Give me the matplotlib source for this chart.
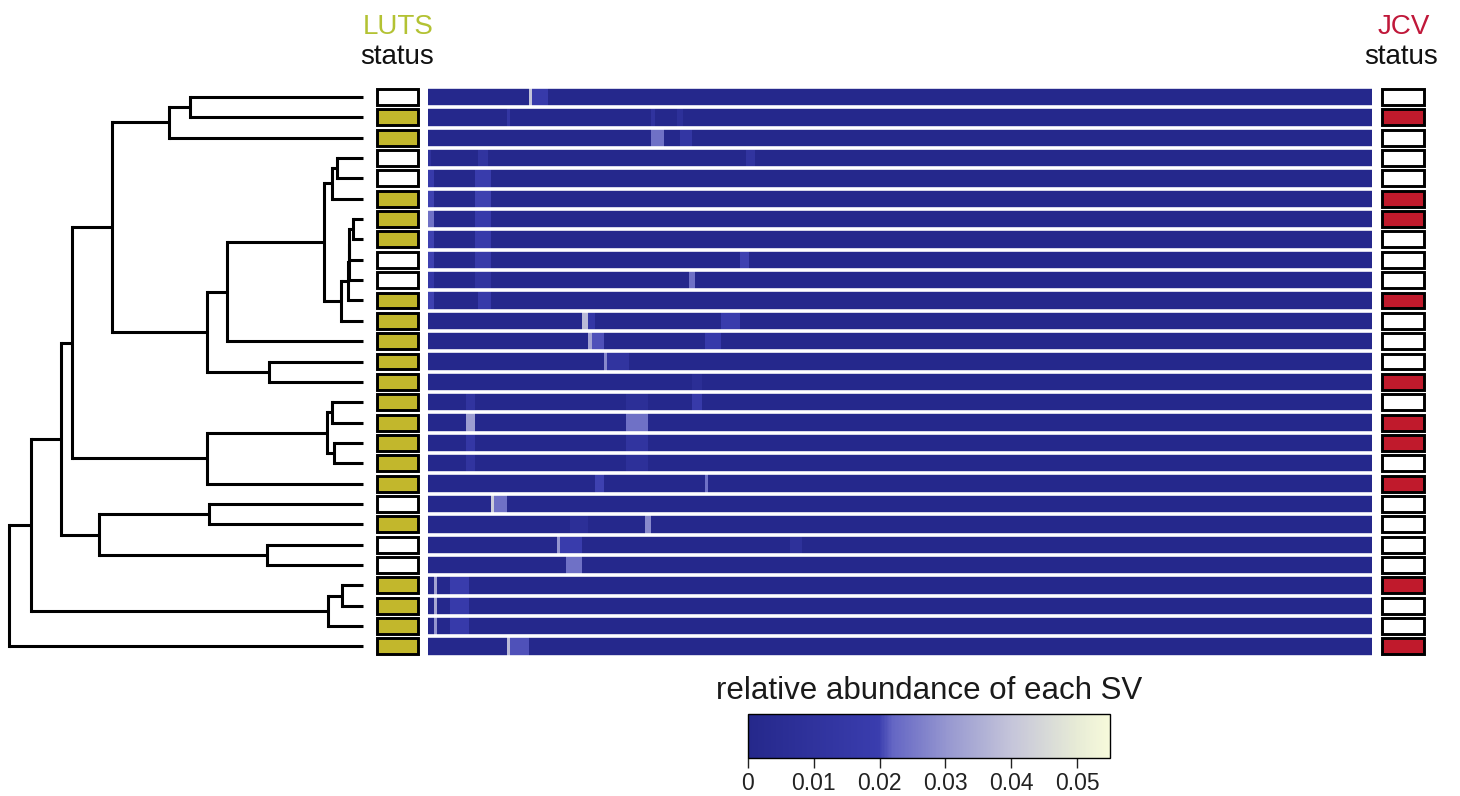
import numpy as np
import matplotlib
matplotlib.use("Agg")
import matplotlib.pyplot as plt
from matplotlib.patches import Rectangle
from matplotlib.colors import LinearSegmentedColormap, Normalize
import matplotlib.cm as cm

plt.rcParams['font.family'] = ['Liberation Sans', 'DejaVu Sans']

# ---------------- data ----------------
n_samples = 28
n_sv = 300

# LUTS status per sample (1 = LUTS, 0 = none), top to bottom
luts_status = [0, 1, 1, 0, 0, 1, 1, 1, 0, 0, 1, 1, 1, 1, 1,
               1, 1, 1, 1, 1, 0, 1, 0, 0, 1, 1, 1, 1]
# JCV status per sample (1 = positive)
jcv_status = [0, 1, 0, 0, 0, 1, 1, 0, 0, 0, 1, 0, 0, 0, 1,
              0, 1, 1, 0, 1, 0, 0, 0, 0, 1, 0, 0, 1]

# hierarchical clustering merges: (child_a, child_b, height); leaves 0..27, new nodes 28..
linkage = [
    (0, 1, 173), (28, 2, 194), (3, 4, 26.5), (30, 5, 31),
    (6, 7, 10.5), (32, 8, 13.7), (33, 9, 14.5), (34, 10, 15.3),
    (35, 11, 22.3), (31, 36, 39), (37, 12, 136), (13, 14, 94),
    (38, 39, 156), (29, 40, 251), (15, 16, 31), (17, 18, 29),
    (42, 43, 36), (44, 19, 156), (41, 45, 291), (20, 21, 154),
    (22, 23, 96), (47, 48, 264), (46, 49, 302), (24, 25, 21),
    (51, 26, 35), (50, 52, 332), (53, 27, 354),
]

# relative abundance highlights per sample: (first SV, last SV, abundance)
background_abundance = 0.001
sv_highlights = [
    [(32, 32, 0.040), (33, 37, 0.018)],
    [(25, 25, 0.014), (71, 71, 0.011), (79, 80, 0.008)],
    [(71, 74, 0.024), (80, 83, 0.014)],
    [(0, 0, 0.010), (16, 18, 0.012), (101, 103, 0.012)],
    [(0, 1, 0.018), (15, 19, 0.019)],
    [(0, 1, 0.020), (15, 19, 0.020)],
    [(0, 1, 0.024), (15, 19, 0.018)],
    [(0, 1, 0.020), (15, 19, 0.018)],
    [(0, 1, 0.020), (15, 19, 0.017), (99, 101, 0.020)],
    [(0, 1, 0.015), (15, 19, 0.012), (83, 84, 0.024)],
    [(0, 1, 0.020), (16, 19, 0.017)],
    [(49, 50, 0.038), (51, 52, 0.015), (93, 98, 0.019)],
    [(51, 52, 0.033), (52, 55, 0.021), (88, 92, 0.018)],
    [(56, 56, 0.028), (57, 63, 0.012)],
    [(84, 86, 0.006)],
    [(12, 14, 0.012), (84, 86, 0.017), (63, 69, 0.007)],
    [(12, 14, 0.032), (63, 69, 0.024)],
    [(12, 14, 0.015), (63, 69, 0.012)],
    [(12, 14, 0.012), (63, 69, 0.008)],
    [(53, 55, 0.020), (88, 88, 0.024)],
    [(20, 20, 0.042), (21, 24, 0.024)],
    [(69, 70, 0.028), (45, 50, 0.007)],
    [(41, 41, 0.030), (42, 48, 0.019), (115, 118, 0.009)],
    [(44, 48, 0.024)],
    [(2, 2, 0.033), (7, 12, 0.019)],
    [(2, 2, 0.034), (7, 12, 0.018)],
    [(2, 2, 0.030), (7, 12, 0.018)],
    [(25, 25, 0.038), (26, 31, 0.021)],
]

cbar_ticks = [0, 0.01, 0.02, 0.03, 0.04, 0.05]
cbar_max = 0.055

# ---------------- layout helpers ----------------
W, H = 1460, 796
fig = plt.figure(figsize=(W / 100, H / 100), dpi=100)


def ax_px(x0, x1, y0, y1):
    return fig.add_axes([x0 / W, 1 - y1 / H, (x1 - x0) / W, (y1 - y0) / H])


row_top, row_bot = 86.8, 656.6
ylims = (n_samples - 0.5, -0.5)

# ---------------- dendrogram ----------------
axd = ax_px(0, 365, row_top, row_bot)
axd.set_xlim(363, -2)
axd.set_ylim(*ylims)
axd.axis('off')
node_y = {i: float(i) for i in range(n_samples)}
node_h = {i: 0.0 for i in range(n_samples)}
lw_d = 2.2
for k, (a, b, h) in enumerate(linkage):
    nid = n_samples + k
    ya, yb = node_y[a], node_y[b]
    axd.plot([node_h[a], h], [ya, ya], color='black', lw=lw_d, solid_capstyle='butt', clip_on=False)
    axd.plot([node_h[b], h], [yb, yb], color='black', lw=lw_d, solid_capstyle='butt', clip_on=False)
    axd.plot([h, h], [ya, yb], color='black', lw=lw_d, solid_capstyle='projecting', clip_on=False)
    node_y[nid] = (ya + yb) / 2
    node_h[nid] = h

# ---------------- status columns ----------------
luts_color = '#C2B72C'
jcv_color = '#C01A2C'


def status_column(x0, x1, values, color):
    ax = ax_px(x0, x1, row_top, row_bot)
    ax.set_xlim(0, 1)
    ax.set_ylim(*ylims)
    ax.axis('off')
    for i, v in enumerate(values):
        ax.add_patch(Rectangle((0.04, i - 0.39), 0.92, 0.78,
                               facecolor=color if v else 'white',
                               edgecolor='black', lw=2.1))
    return ax


status_column(375, 420, luts_status, luts_color)
status_column(1380, 1426, jcv_status, jcv_color)

# ---------------- heatmap ----------------
cmap = LinearSegmentedColormap.from_list('abund', [
    (0.0, '#25288B'), (0.36, '#3A3DAE'), (0.40, '#6466C4'),
    (0.55, '#9697D0'), (0.73, '#C5C5DA'), (0.91, '#E7EBD6'), (1.0, '#F7FADB')])
norm = Normalize(0, cbar_max)

mat = np.full((n_samples, n_sv), background_abundance)
for i, hl in enumerate(sv_highlights):
    for c0, c1, v in hl:
        mat[i, c0:c1 + 1] = v

axh = ax_px(428, 1372, row_top, row_bot)
axh.imshow(mat, cmap=cmap, norm=norm, aspect='auto', interpolation='nearest',
           extent=(0, n_sv, n_samples - 0.5, -0.5))
axh.set_xlim(0, n_sv)
axh.set_ylim(*ylims)
for i in range(n_samples + 1):
    axh.axhline(i - 0.5, color='white', lw=2.6)
axh.axis('off')

# ---------------- titles ----------------
fs = 20
fig.text(398 / W, 1 - 27 / H, 'LUTS', color='#B3C233', fontsize=fs, ha='center', va='center')
fig.text(397 / W, 1 - 57 / H, 'status', color='#111111', fontsize=fs, ha='center', va='center')
fig.text(1404 / W, 1 - 27 / H, 'JCV', color='#C0183A', fontsize=fs, ha='center', va='center')
fig.text(1401 / W, 1 - 57 / H, 'status', color='#111111', fontsize=fs, ha='center', va='center')

# ---------------- colorbar ----------------
cax = ax_px(748, 1110, 714, 758)
sm = cm.ScalarMappable(norm=norm, cmap=cmap)
cb = fig.colorbar(sm, cax=cax, orientation='horizontal', ticks=cbar_ticks)
cb.set_ticklabels(['0' if t == 0 else f'{t:g}' for t in cbar_ticks])
cb.outline.set_linewidth(1.0)
cax.tick_params(labelsize=16.5, length=7, width=1, pad=3, colors='#222222')
fig.text(929 / W, 1 - 691 / H, 'relative abundance of each SV', fontsize=22.5,
         ha='center', va='center', color='#1a1a1a')

fig.savefig('out.png', dpi=100, facecolor='white')
